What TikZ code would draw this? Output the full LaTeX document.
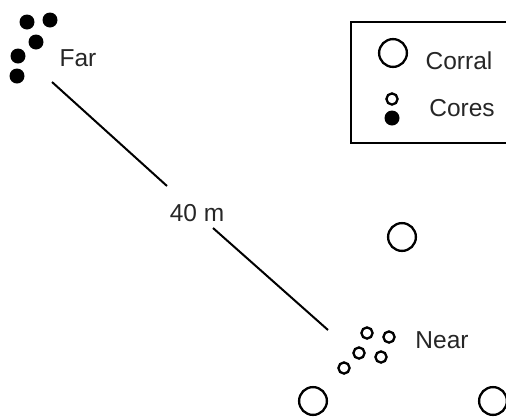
\documentclass[tikz,border=0pt]{standalone}
\usepackage{fontspec}
\setmainfont{Liberation Sans}
\begin{document}
\begin{tikzpicture}[x=1pt,y=-1pt,
  lbl/.style={font=\fontsize{24.5}{28}\selectfont, inner sep=0pt, text=black!85},
  core/.style={circle, draw, line width=2.3pt, minimum size=11.2pt, inner sep=0pt},
  corefill/.style={circle, fill=black, minimum size=15pt, inner sep=0pt},
  corral/.style={circle, draw, line width=2.3pt, minimum size=27.8pt, inner sep=0pt},
  link/.style={line width=2pt}]
\useasboundingbox (0,0) rectangle (506,416);
\clip (0,0) rectangle (506,416);
% far cores
\node[corefill] (f1) at (27,22) {};
\node[corefill] (f2) at (50,20) {};
\node[corefill] (f3) at (36,42) {};
\node[corefill] (f4) at (18,56) {};
\node[corefill] (f5) at (17,76) {};
\node[lbl] (far) at (78,58) {Far};
% near cores
\node[core] (n1) at (367,333) {};
\node[core] (n2) at (389,337) {};
\node[core] (n3) at (359,353) {};
\node[core] (n4) at (381,357) {};
\node[core] (n5) at (344,368) {};
\node[lbl] (near) at (442,340) {Near};
% corrals
\node[corral] (c1) at (402,237) {};
\node[corral] (c2) at (313,401) {};
\node[corral] (c3) at (493,401) {};
% distance line
\coordinate (farend) at (52,82);
\coordinate (gapa) at (167,186);
\coordinate (gapb) at (213,228);
\coordinate (nearend) at (328,330);
\node[lbl] (dist) at (197,213) {40 m};
\draw[link] (farend) -- (gapa);
\draw[link] (gapb) -- (nearend);
% legend
\draw[line width=2.2pt] (351,22) rectangle (520,143);
\node[corral] (lc) at (393,53) {};
\node[lbl] (lct) at (459,61) {Corral};
\node[core] (lo) at (392,99) {};
\node[corefill] (lf) at (392,118) {};
\node[lbl] (lot) at (462,108) {Cores};
\end{tikzpicture}
\end{document}
